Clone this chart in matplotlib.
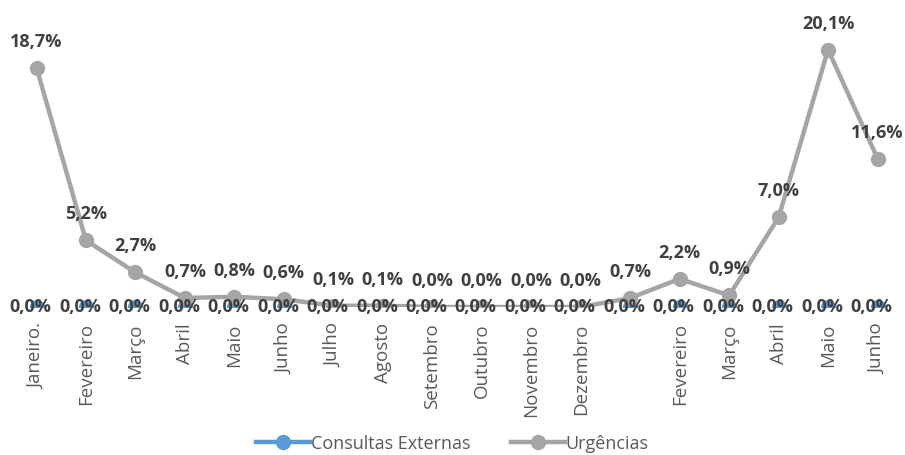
import numpy as np
import matplotlib.pyplot as plt
from matplotlib.lines import Line2D

meses = ['Janeiro.', 'Fevereiro', 'Março', 'Abril', 'Maio', 'Junho', 'Julho', 'Agosto',
         'Setembro', 'Outubro', 'Novembro', 'Dezembro', '', 'Fevereiro', 'Março',
         'Abril', 'Maio', 'Junho']
consultas = [0.0] * 18
urgencias = [18.7, 5.2, 2.7, 0.7, 0.8, 0.6, 0.1, 0.1, 0.0, 0.0, 0.0, 0.0,
             0.7, 2.2, 0.9, 7.0, 20.1, 11.6]

azul = '#5B9BD5'
cinza = '#A5A5A5'
texto = '#404040'

plt.rcParams['font.family'] = ['Open Sans', 'DejaVu Sans']

fig = plt.figure(figsize=(9.05, 4.56), dpi=100)
ax = fig.add_axes([0.013, 0.3246, 0.984, 0.6175])

x = np.arange(len(meses))
# the blue series shows only its markers in the original
ax.plot(x, consultas, color=azul, ls='none', marker='o', ms=10, zorder=2)
ax.plot(x, urgencias, color=cinza, lw=3.2, marker='o', ms=10, zorder=3)

def fmt(v):
    return f'{v:.1f}%'.replace('.', ',')

for i, v in enumerate(urgencias):
    ax.annotate(fmt(v), (x[i], v), xytext=(0, 27), textcoords='offset pixels',
                ha='center', va='center', fontsize=13, fontweight='bold', color=texto, zorder=5)
for i, v in enumerate(consultas):
    ax.annotate(fmt(v), (x[i], v), xytext=(-6, 1), textcoords='offset pixels',
                ha='center', va='center', fontsize=13, fontweight='bold', color=texto, zorder=5)

ax.set_xlim(-0.5, len(meses) - 0.5)
ax.set_ylim(0, 22)
ax.set_xticks(x)
ax.set_xticklabels(meses, rotation=90, fontsize=13.5, color='#595959')
ax.tick_params(axis='x', length=0, pad=11)
ax.set_yticks([])
for s in ax.spines.values():
    s.set_visible(False)

handles = [Line2D([], [], color=azul, lw=3.2, marker='o', ms=10),
           Line2D([], [], color=cinza, lw=3.2, marker='o', ms=10)]
fig.legend(handles, ['Consultas Externas', 'Urgências'], loc='lower center',
           bbox_to_anchor=(0.5, -0.03), ncol=2, frameon=False,
           fontsize=13, labelcolor='#595959', handlelength=3, columnspacing=2.2,
           handletextpad=0.05)

plt.savefig('out.png')
